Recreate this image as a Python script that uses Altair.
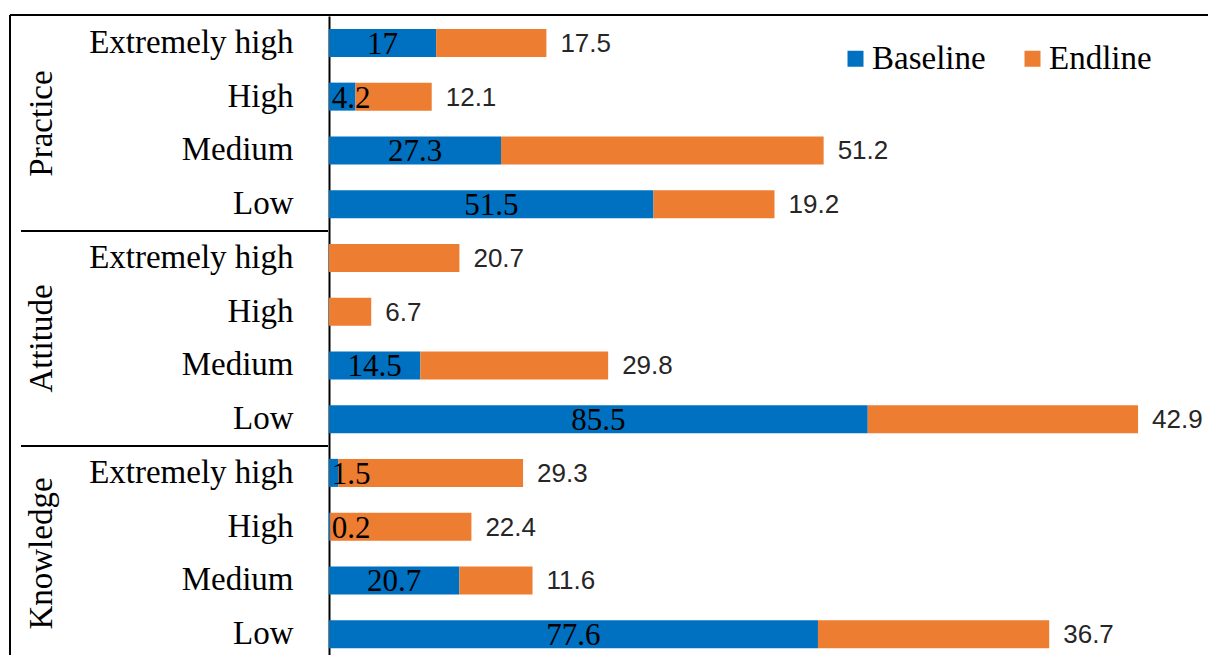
import altair as alt
import pandas as pd

groups = ["Practice", "Attitude", "Knowledge"]
levels = ["Extremely high", "High", "Medium", "Low"]
baseline = {
    "Practice": [17, 4.2, 27.3, 51.5],
    "Attitude": [0, 0, 14.5, 85.5],
    "Knowledge": [1.5, 0.2, 20.7, 77.6],
}
endline = {
    "Practice": [17.5, 12.1, 51.2, 19.2],
    "Attitude": [20.7, 6.7, 29.8, 42.9],
    "Knowledge": [29.3, 22.4, 11.6, 36.7],
}
series = ["Baseline", "Endline"]
colors = ["#0070C0", "#ED7D31"]

rows = []
for g in groups:
    for i, lv in enumerate(levels):
        rows.append({
            "key": f"{g}|{lv}",
            "group": g,
            "level": lv,
            "Baseline": baseline[g][i],
            "Endline": endline[g][i],
        })
wide = pd.DataFrame(rows)
order_keys = list(wide["key"])

long = wide.melt(id_vars=["key"], value_vars=series, var_name="series", value_name="value")
long["ord"] = long["series"].map({s: i for i, s in enumerate(series)})

W, H = 879, 645
yenc = alt.Y("key:N", sort=order_keys,
             scale=alt.Scale(paddingInner=0, paddingOuter=0),
             axis=alt.Axis(title=None, ticks=False, domain=True, domainColor="black",
                           domainWidth=2, labelFont="Liberation Serif", labelFontSize=33,
                           labelColor="black", labelPadding=36, labelAlign="right",
                           labelLimit=400,
                           labelExpr="split(datum.value, '|')[1]"))
xscale = alt.Scale(domain=[0, 139.5], nice=False, zero=True)

bars = alt.Chart(long).mark_bar(size=28).encode(
    y=yenc,
    x=alt.X("value:Q", stack="zero", scale=xscale, axis=None),
    color=alt.Color("series:N", scale=alt.Scale(domain=series, range=colors),
                    legend=alt.Legend(title=None, orient="none", direction="horizontal",
                                      legendX=510, legendY=26, symbolType="square",
                                      symbolSize=256, symbolStrokeWidth=0,
                                      labelFont="Liberation Serif", labelFontSize=33,
                                      labelColor="black", labelOffset=0, columnPadding=30,
                                      labelLimit=300)),
    order=alt.Order("ord:Q"),
)

base_lbl = alt.Chart(wide).transform_filter("datum.Baseline > 0").transform_calculate(
    mid="max(datum.Baseline / 2, 3.5)"
).mark_text(font="Liberation Serif", fontSize=31, color="black", baseline="middle", dy=2).encode(
    y=alt.Y("key:N", sort=order_keys),
    x=alt.X("mid:Q", scale=xscale),
    text=alt.Text("Baseline:Q"),
)

end_lbl = alt.Chart(wide).transform_calculate(
    tot="datum.Baseline + datum.Endline"
).mark_text(font="Liberation Sans", fontSize=26, color="#262626", align="left",
            baseline="middle", dx=14, dy=1).encode(
    y=alt.Y("key:N", sort=order_keys),
    x=alt.X("tot:Q", scale=xscale),
    text=alt.Text("Endline:Q"),
)

sep_df = pd.DataFrame({"key": [f"{g}|Low" for g in groups[:-1]]})
seps = alt.Chart(sep_df).mark_rule(color="black", strokeWidth=2).encode(
    y=alt.Y("key:N", sort=order_keys, bandPosition=1),
    x=alt.value(-308), x2=alt.value(-1),
)

grp_df = pd.DataFrame({"key": [f"{g}|High" for g in groups], "group": groups})
grp_lbl = alt.Chart(grp_df).mark_text(font="Liberation Serif", fontSize=33, color="black",
                                      angle=270, align="center", baseline="middle").encode(
    y=alt.Y("key:N", sort=order_keys, bandPosition=1),
    x=alt.value(-287),
    text="group:N",
)

top_line = alt.Chart(sep_df.head(1)).mark_rule(color="black", strokeWidth=2).encode(
    y=alt.value(-1), x=alt.value(-319), x2=alt.value(W),
)
left_line = alt.Chart(sep_df.head(1)).mark_rule(color="black", strokeWidth=2).encode(
    x=alt.value(-319), y=alt.value(-1), y2=alt.value(H + 10),
)

chart = alt.layer(bars, base_lbl, end_lbl, seps, grp_lbl, top_line, left_line).properties(
    width=W, height=H,
    autosize=alt.AutoSizeParams(type="none"),
    padding={"left": 329, "top": 16, "right": 0, "bottom": 0},
).configure_view(stroke=None)

chart.save("out.html", embed_options={"renderer": "svg", "actions": False})
